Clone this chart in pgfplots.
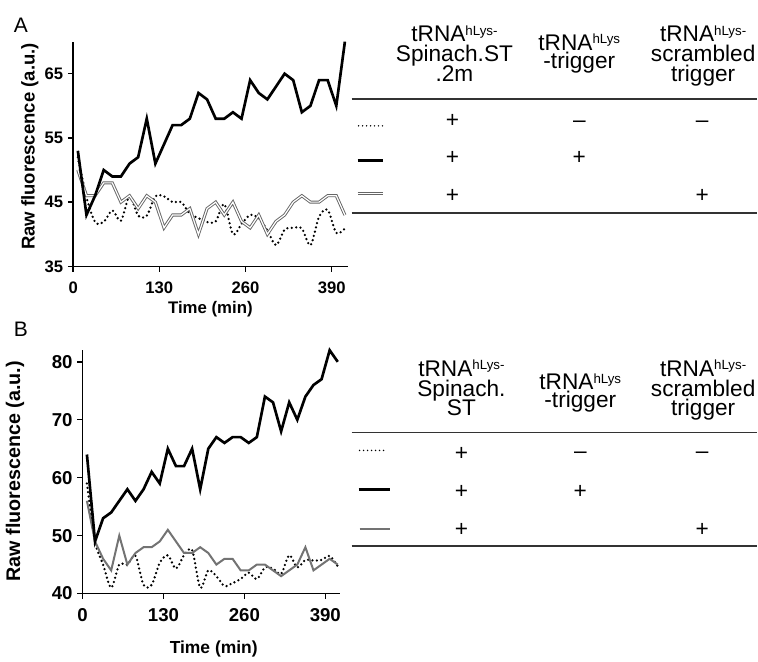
\documentclass[border=0pt]{standalone}
\usepackage{pgfplots}
\pgfplotsset{compat=1.18}
\usepackage{fontspec}
\setmainfont{Liberation Sans}

\tikzset{
  blk/.style={black, line width=2pt},
  dotl/.style={black, line width=1.9pt, line cap=round, dash pattern=on 0pt off 3.3pt},
  dbl/.style={draw=black!60, line width=0.7pt, double=white, double distance=0.9pt},
  gry/.style={black!55, line width=1.5pt},
  hd/.style={anchor=north, inner sep=0pt, align=center,
    font={\fontsize{17}{#1}\selectfont\lineskiplimit=-30pt\relax}},
}
\pgfplotsset{
  panel/.style={
    scale only axis, anchor=south west,
    axis x line=bottom, axis y line=left,
    axis line style={line width=1.1pt, -},
    tick style={line width=1.1pt, black},
    tick align=outside, major tick length=4pt,
    xmin=0, xmax=414, xtick={0,130,260,390},
    enlargelimits=false, clip=false,
    /pgf/number format/assume math mode=true,
    xticklabel style={yshift=-4pt},
    xlabel={Time (min)}, ylabel={Raw fluorescence (a.u.)},
  },
}
\newcommand\sups[1]{\raisebox{5pt}{\fontsize{10}{10}\selectfont #1}}
\newcommand\pmf{\fontsize{17}{17}\selectfont}

\begin{document}
\begin{tikzpicture}
\begin{scope}[x=0.75pt, y=-0.75pt]
  \path[use as bounding box] (0,0) rectangle (758,660);
\end{scope}

% panel A
\begin{axis}[panel,
  at={(54.98pt,-200.0pt)}, width=206pt, height=168.75pt,
  ymin=35, ymax=70, ytick={35,45,55,65},
  ticklabel style={font=\bfseries\fontsize{12.5}{14}\selectfont},
  xlabel style={at={(axis description cs:0.5,-0.19)}, anchor=center,
    font=\bfseries\fontsize{12.6}{14}\selectfont},
  ylabel style={at={(axis description cs:-0.158,0.533)}, anchor=center, rotate=0,
    font=\bfseries\fontsize{13.9}{15}\selectfont},
]
\addplot[dotl, smooth, tension=0.5] coordinates {
(7,52)(20,45.8)(33,41.9)(46,41.9)(59,43.7)(72,42.1)(85,45.9)(98,42.9)(111,42.9)(124,45.9)
(137,45.9)(150,45)(163,45)(176,43.2)(189,42.5)(202,41.9)(215,42)(228,44.7)(241,40)(254,41.6)
(267,43)(280,42.5)(293,40.6)(306,38.3)(319,40.7)(332,41)(345,40.9)(358,38.3)(371,42.7)(384,43.8)
(397,40.2)(410,40.9)};
\addplot[dbl] coordinates {
(7,50)(20,46)(33,46)(46,48)(59,48)(72,45)(85,46)(98,44)(111,46)(124,45)
(137,41)(150,43)(163,43)(176,44)(189,40)(202,44)(215,45)(228,43)(241,45)(254,42)
(267,41)(280,43)(293,40)(306,42)(319,43)(332,45)(345,46)(358,45)(371,45)(384,46)
(397,46)(410,43)};
\addplot[blk] coordinates {
(7,53)(20,43)(33,46)(46,50)(59,49)(72,49)(85,51)(98,52)(111,58)(124,51)
(137,54)(150,57)(163,57)(176,58)(189,62)(202,61)(215,58)(228,58)(241,59)(254,58)
(267,64)(280,62)(293,61)(306,63)(319,65)(332,64)(345,59)(358,60)(371,64)(384,64)
(397,60)(410,70)};
\end{axis}

% panel B
\begin{axis}[panel,
  at={(62.0pt,-445.7pt)}, width=193.5pt, height=182.7pt,
  ymin=40, ymax=82, ytick={40,50,60,70,80},
  ticklabel style={font=\bfseries\fontsize{14}{15}\selectfont},
  xlabel style={at={(axis description cs:0.509,-0.229)}, anchor=center,
    font=\bfseries\fontsize{13.1}{15}\selectfont},
  ylabel style={at={(axis description cs:-0.262,0.503)}, anchor=center, rotate=0,
    font=\bfseries\fontsize{14.8}{16}\selectfont},
]
\addplot[dotl, smooth, tension=0.5] coordinates {
(7,59)(20,49)(33,45)(46,41)(59,45)(72,45)(85,46.5)(98,41.5)(111,41.5)(124,45.3)
(137,46.6)(150,44.3)(163,46.6)(176,47.5)(189,41)(202,44)(215,43)(228,41.3)(241,41.8)(254,42.5)
(267,43.6)(280,42.5)(293,44.5)(306,44.3)(319,43.4)(332,46.6)(345,44.5)(358,45.8)(371,45.7)(384,45.8)
(397,46.5)(410,44.7)};
\addplot[gry] coordinates {
(7,56)(20,49)(33,46)(46,44)(59,50)(72,45)(85,47)(98,48)(111,48)(124,49)
(137,51)(150,49)(163,47)(176,47)(189,48)(202,47)(215,45)(228,46)(241,46)(254,44)
(267,44)(280,45)(293,45)(306,44)(319,43)(332,44)(345,45)(358,48)(371,44)(384,45)
(397,46)(410,45)};
\addplot[blk] coordinates {
(7,64)(20,49)(33,53)(46,54)(59,56)(72,58)(85,56)(98,58)(111,61)(124,59)
(137,65)(150,62)(163,62)(176,65)(189,58)(202,65)(215,67)(228,66)(241,67)(254,67)
(267,66)(280,67)(293,74)(306,73)(319,68)(332,73)(345,70)(358,74)(371,76)(384,77)
(397,82)(410,80)};
\end{axis}

\begin{scope}[x=0.75pt, y=-0.75pt, every node/.style={inner sep=0pt}]
  \node[font=\fontsize{15.75}{16}\selectfont] at (21,25.5) {A};
  \node[font=\fontsize{15.75}{16}\selectfont] at (21,329.5) {B};

  % table A
  \node[hd=14.75pt] at (455,25.3) {tRNA\sups{hLys-}\\Spinach.ST\\.2m};
  \node[hd=13.5pt] at (580,33.6) {tRNA\sups{hLys}\\-trigger};
  \node[hd=14.75pt] at (704,25.3) {tRNA\sups{hLys-}\\scrambled\\trigger};
  \draw[black!80, line width=1.4pt] (352,99) -- (758,99);
  \draw[black!80, line width=1.4pt] (352,213) -- (758,213);
  \draw[black, line width=1.2pt, line cap=round, dash pattern=on 0pt off 3pt] (359,126) -- (383,126);
  \draw[blk] (358,160.5) -- (383,160.5);
  \draw[dbl] (358,194) -- (383,194);
  \begin{scope}[every node/.style={anchor=base, inner sep=0pt, font=\pmf}]
  \node at (453,127.5) {+};
  \node at (580,127.5) {–};
  \node at (703,127.5) {–};
  \node at (453,165) {+};
  \node at (580,165) {+};
  \node at (453,203) {+};
  \node at (703,203) {+};
  \end{scope}

  % table B
  \node[hd=14.75pt] at (462,360.3) {tRNA\sups{hLys-}\\Spinach.\\ST};
  \node[hd=13.5pt] at (581,373.6) {tRNA\sups{hLys}\\-trigger};
  \node[hd=14.75pt] at (704,360.3) {tRNA\sups{hLys-}\\scrambled\\trigger};
  \draw[black!80, line width=1.4pt] (352,433) -- (758,433);
  \draw[black!80, line width=1.4pt] (352,547) -- (758,547);
  \draw[black, line width=1.2pt, line cap=round, dash pattern=on 0pt off 3pt] (360,451) -- (388,451);
  \draw[blk] (359,490) -- (390,490);
  \draw[gry] (360,530) -- (390,530);
  \begin{scope}[every node/.style={anchor=base, inner sep=0pt, font=\pmf}]
  \node at (462,461) {+};
  \node at (581,459) {–};
  \node at (703,459) {–};
  \node at (462,499) {+};
  \node at (581,499) {+};
  \node at (462,537) {+};
  \node at (703,537) {+};
  \end{scope}
\end{scope}
\end{tikzpicture}
\end{document}
